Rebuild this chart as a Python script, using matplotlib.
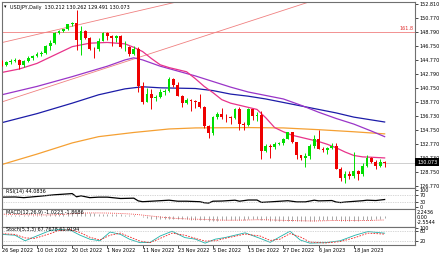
import matplotlib.pyplot as plt
from matplotlib.patches import Rectangle

# ---------------- data ----------------
date_labels = ["26 Sep 2022", "10 Oct 2022", "20 Oct 2022", "1 Nov 2022", "11 Nov 2022",
               "23 Nov 2022", "5 Dec 2022", "15 Dec 2022", "27 Dec 2022", "6 Jan 2023", "18 Jan 2023"]
date_pos = [0.05, 8, 16, 24, 32, 40, 48, 56, 64, 72, 80]

opens = [144.70, 144.10, 144.45, 144.70, 144.80, 144.10, 144.60, 145.10, 145.30, 145.70,
         145.80, 146.80, 147.20, 148.70, 149.00, 149.20, 149.90, 150.10, 147.60, 148.90,
         148.00, 146.40, 146.30, 147.50, 148.70, 148.20, 147.90, 148.20, 146.60, 146.65,
         145.60, 146.40, 141.00, 138.80, 139.90, 139.30, 139.50, 140.20, 140.40, 142.10,
         141.20, 139.65, 138.60, 139.10, 138.90, 138.70, 138.10, 135.30, 134.30, 136.65,
         137.00, 136.60, 136.55, 136.50, 137.70, 135.60, 135.45, 137.80, 136.70, 136.90,
         131.70, 132.40, 132.35, 132.80, 132.90, 133.50, 134.45, 133.00, 131.10, 130.70,
         131.00, 132.40, 133.40, 132.10, 131.90, 132.20, 132.40, 129.20, 127.90, 128.50,
         128.20, 128.90, 128.40, 129.60, 130.70, 130.20, 129.60, 130.212]
highs = [144.85, 144.70, 144.95, 145.05, 144.90, 144.85, 145.30, 145.45, 145.90, 146.10,
         146.90, 147.65, 148.85, 149.10, 149.30, 149.95, 150.30, 151.94, 149.70, 149.05,
         148.10, 146.60, 147.90, 148.80, 148.80, 148.40, 148.40, 148.40, 147.50, 146.80,
         146.80, 146.60, 141.70, 140.80, 140.60, 139.80, 140.70, 140.60, 142.30, 142.20,
         141.60, 139.80, 139.30, 139.20, 139.10, 139.90, 138.20, 135.40, 136.70, 137.30,
         137.90, 137.10, 136.80, 137.90, 138.00, 135.90, 137.90, 137.80, 137.30, 137.45,
         132.80, 132.70, 133.00, 133.00, 133.60, 134.50, 134.50, 133.10, 131.15, 131.40,
         132.70, 134.00, 134.80, 132.30, 132.30, 132.90, 132.90, 129.40, 128.90, 128.90,
         131.60, 129.00, 130.00, 131.10, 130.90, 130.50, 130.60, 130.262]
lows = [143.90, 143.90, 144.20, 144.45, 143.55, 143.80, 144.50, 144.80, 145.25, 145.40,
        145.70, 146.20, 147.10, 148.50, 148.85, 149.10, 149.70, 146.20, 145.50, 147.80,
        146.20, 145.10, 146.10, 147.45, 147.70, 146.80, 147.30, 146.55, 146.10, 145.30,
        145.50, 140.20, 138.50, 138.75, 137.70, 138.90, 139.30, 139.80, 140.20, 140.90,
        139.60, 138.10, 138.50, 137.50, 137.90, 137.90, 135.00, 133.60, 134.10, 136.30,
        136.40, 135.90, 135.60, 136.40, 134.70, 134.80, 135.30, 136.20, 136.10, 130.60,
        131.60, 130.80, 132.00, 132.60, 132.60, 133.40, 132.90, 130.60, 130.40, 129.50,
        130.60, 132.20, 132.00, 131.60, 131.30, 132.00, 129.10, 127.50, 127.20, 127.70,
        127.90, 127.60, 128.10, 129.50, 130.00, 129.20, 129.50, 129.491]
closes = [144.10, 144.45, 144.70, 144.80, 144.10, 144.60, 145.10, 145.30, 145.70, 145.80,
          146.80, 147.20, 148.70, 149.00, 149.20, 149.90, 150.10, 147.60, 148.90, 148.00,
          146.40, 146.30, 147.50, 148.70, 148.20, 147.90, 148.20, 146.60, 146.65, 145.60,
          146.40, 141.00, 138.80, 139.90, 139.30, 139.50, 140.20, 140.40, 142.10, 141.20,
          139.65, 138.60, 139.10, 138.90, 138.70, 138.10, 135.30, 134.30, 136.65, 137.00,
          136.60, 136.55, 136.50, 137.70, 135.60, 135.45, 137.80, 136.70, 136.90, 131.70,
          132.40, 132.35, 132.80, 132.90, 133.50, 134.45, 133.00, 131.10, 130.70, 131.00,
          132.40, 133.40, 132.10, 131.90, 132.20, 132.40, 129.20, 127.90, 128.50, 128.20,
          128.90, 128.40, 129.60, 130.70, 130.20, 129.60, 130.21, 130.073]

# moving averages, sampled along the chart (bar index, price)
ma_fast_x = [0, 4, 8, 12, 16, 20, 24, 28, 30, 32, 34, 36, 38, 40, 42, 44, 46, 48, 50, 52,
             54, 56, 58, 60, 62, 64, 66, 68, 70, 72, 74, 76, 78, 80, 82, 84, 87]
ma_fast = [143.0, 143.5, 144.3, 145.5, 146.7, 147.2, 147.3, 147.1, 146.6, 146.0, 145.0, 144.1,
           143.7, 143.4, 143.1, 142.1, 141.0, 140.1, 139.1, 138.6, 138.3, 138.0, 137.7, 136.5,
           135.1, 134.5, 134.0, 133.7, 133.4, 133.1, 132.7, 132.2, 131.6, 131.1, 130.9, 130.85, 130.75]
ma_mid_x = [0, 8, 16, 24, 28, 30, 32, 36, 40, 44, 48, 52, 56, 60, 64, 68, 72, 76, 80, 84, 87]
ma_mid = [139.8, 141.0, 142.4, 143.9, 144.8, 145.1, 144.8, 143.9, 143.2, 142.5, 141.7, 140.9,
          140.2, 139.7, 139.2, 138.3, 137.3, 136.4, 135.6, 134.6, 133.8]
ma_slow_x = [0, 8, 16, 22, 28, 32, 36, 44, 48, 52, 56, 60, 64, 68, 72, 76, 80, 84, 87]
ma_slow = [135.8, 137.1, 138.6, 139.8, 140.65, 140.95, 140.8, 140.7, 140.4, 139.9, 139.6,
           139.2, 138.7, 138.2, 137.7, 137.2, 136.6, 136.2, 135.9]
ma_long_x = [0, 8, 16, 22, 30, 38, 44, 56, 64, 72, 80, 87]
ma_long = [129.8, 131.3, 132.9, 133.8, 134.4, 134.9, 135.05, 135.1, 135.05, 134.8, 134.5, 134.2]

# trend lines (two anchor points each) and fibo level
trend1 = [(-0.4, 147.22), (41.6, 153.38)]
trend2 = [(-0.4, 138.69), (69.8, 153.10)]
fibo_level = 148.80
last_price = 130.073

price_ticks = [152.81, 150.77, 148.79, 146.75, 144.77, 142.79, 140.75, 138.77, 136.73,
               134.75, 132.77, 130.73, 128.75, 126.77]

rsi_x = [0, 3, 5, 8, 12, 16, 17, 18, 20, 22, 24, 27, 30, 31, 32, 34, 38, 40, 42, 45, 46, 47,
         48, 50, 53, 54, 56, 58, 59, 61, 65, 67, 69, 71, 72, 75, 76, 77, 78, 80, 82, 83, 85, 87]
rsi = [58, 59, 55, 62, 72, 79, 60, 66, 55, 58, 58, 50, 52, 36, 31, 34, 40, 34, 34, 31, 25, 23,
       34, 35, 40, 34, 41, 41, 27, 30, 37, 30, 30, 40, 36, 38, 29, 26, 29, 33, 37, 40, 38, 44]

macd_main = [1.00, 0.95, 0.90, 0.85, 0.75, 0.70, 0.70, 0.72, 0.78, 0.82,
             0.92, 1.05, 1.28, 1.50, 1.68, 1.88, 2.10, 2.20, 2.24, 2.05,
             1.80, 1.55, 1.45, 1.45, 1.40, 1.30, 1.25, 1.05, 0.88, 0.66,
             0.55, 0.05, -0.52, -0.85, -1.15, -1.35, -1.42, -1.45, -1.30, -1.30,
             -1.40, -1.55, -1.60, -1.65, -1.70, -1.75, -2.05, -2.35, -2.30, -2.20,
             -2.10, -2.00, -1.90, -1.75, -1.78, -1.80, -1.62, -1.55, -1.45, -1.85,
             -2.10, -2.30, -2.40, -2.45, -2.42, -2.30, -2.30, -2.45, -2.55, -2.55,
             -2.50, -2.20, -2.10, -2.00, -1.92, -1.85, -2.00, -2.20, -2.30, -2.35,
             -2.30, -2.30, -2.15, -1.95, -1.70, -1.45, -1.25, -1.02]
macd_signal = [1.20, 1.15, 1.10, 1.05, 1.00, 0.95, 0.90, 0.85, 0.82, 0.80,
               0.80, 0.82, 0.88, 0.98, 1.10, 1.25, 1.42, 1.55, 1.68, 1.78,
               1.84, 1.85, 1.84, 1.82, 1.78, 1.72, 1.65, 1.55, 1.43, 1.30,
               1.15, 0.95, 0.70, 0.45, 0.20, -0.05, -0.30, -0.55, -0.75, -0.95,
               -1.10, -1.22, -1.33, -1.42, -1.48, -1.52, -1.60, -1.70, -1.80, -1.88,
               -1.95, -2.00, -2.00, -1.98, -1.96, -1.93, -1.88, -1.82, -1.76, -1.75,
               -1.78, -1.84, -1.92, -2.00, -2.08, -2.15, -2.20, -2.25, -2.30, -2.35,
               -2.40, -2.40, -2.36, -2.32, -2.26, -2.18, -2.12, -2.10, -2.10, -2.12,
               -2.15, -2.17, -2.17, -2.15, -2.10, -2.02, -1.95, -1.87]

stoch_x = [0, 3, 5.3, 7.5, 11, 13, 15.5, 17.8, 20, 22.3, 24.6, 27, 29, 31.4, 33.7, 36, 38.7,
           41.6, 44, 46.2, 48.5, 50.7, 55.3, 58.7, 61, 63.2, 65.5, 67.8, 70, 73.5, 76.9,
           80.3, 83.2, 87]
stoch_main = [60, 55, 20, 45, 85, 90, 88, 55, 30, 20, 75, 60, 30, 8, 10, 50, 80, 40, 30, 5,
              30, 40, 70, 35, 10, 45, 80, 25, 5, 8, 20, 55, 78, 67.77]
stoch_signal = [65, 60, 38, 35, 65, 85, 90, 72, 42, 25, 55, 68, 45, 18, 8, 35, 68, 55, 35, 18,
                20, 35, 62, 50, 22, 30, 65, 45, 12, 6, 15, 40, 68, 61.92]

# ---------------- layout ----------------
W, H = 440, 254
fig = plt.figure(figsize=(W / 100, H / 100), dpi=100)
fig.patch.set_facecolor("white")
FS = 3.5
FRAME = "#707070"


def panel(y0, y1, x0=2, x1=415):
    ax = fig.add_axes([x0 / W, 1 - y1 / H, (x1 - x0) / W, (y1 - y0) / H])
    for s in ax.spines.values():
        s.set_color(FRAME)
        s.set_linewidth(0.8)
    ax.set_xlim(0.05, 93.9)
    ax.tick_params(axis="x", bottom=False, labelbottom=False)
    ax.yaxis.tick_right()
    ax.tick_params(axis="y", length=2, width=0.5, pad=1, labelsize=FS, colors="black")
    return ax


def ftext(x, y, s, **kw):
    fig.text(x / W, 1 - y / H, s, fontsize=FS, va="center", **kw)


ax = panel(2, 188)
ax_rsi = panel(188, 209)
ax_macd = panel(209, 227)
ax_st = panel(227, 245)

# ---------------- main chart ----------------
idx = list(range(len(closes)))
colors = ["#00dd00" if c >= o else "#ee0000" for o, c in zip(opens, closes)]
ax.vlines(idx, lows, highs, colors=colors, lw=0.7, zorder=3)
ax.bar(idx, [max(abs(c - o), 0.06) for o, c in zip(opens, closes)],
       bottom=[min(o, c) for o, c in zip(opens, closes)], width=0.62,
       color=colors, zorder=4, linewidth=0)

ax.plot(ma_long_x, ma_long, color="#f5a033", lw=0.9, zorder=2)
ax.plot(ma_slow_x, ma_slow, color="#1c1ca8", lw=0.9, zorder=2)
ax.plot(ma_mid_x, ma_mid, color="#9a35c8", lw=0.9, zorder=2)
ax.plot(ma_fast_x, ma_fast, color="#e8338a", lw=0.9, zorder=2)

ax.axline(trend1[0], trend1[1], color="#f08080", lw=0.6, zorder=1)
ax.axline(trend2[0], trend2[1], color="#f08080", lw=0.6, zorder=1)
ax.axhline(fibo_level, color="#f08080", lw=0.6, zorder=1)
ax.axhline(last_price, color="#c8c8c8", lw=0.6, zorder=1)
ax.text(93.6, fibo_level + 0.1, "161.8", color="#e03030", fontsize=FS, ha="right", va="bottom")

ax.set_ylim(126.44, 153.10)
ax.set_yticks(price_ticks)
ax.set_yticklabels(["%.3f" % v for v in price_ticks])

ftext(4, 7, "\u25be", color="black")
ftext(10, 7, "USDJPY,Daily  130.212 130.262 129.491 130.073", color="black")

# last price tag
fig.patches.append(Rectangle((415 / W, 1 - 166 / H), 24 / W, 8 / H, transform=fig.transFigure,
                             facecolor="black", edgecolor="none", zorder=5))
ftext(417.5, 162, "%.3f" % last_price, color="white", zorder=6)

# ---------------- RSI ----------------
ax_rsi.plot(rsi_x, rsi, color="black", lw=0.9)
ax_rsi.axhline(70, color="#b0b0b0", lw=0.5, ls=(0, (1, 1.5)))
ax_rsi.axhline(30, color="#b0b0b0", lw=0.5, ls=(0, (1, 1.5)))
ax_rsi.set_ylim(-12, 112)
ax_rsi.set_yticks([100, 70, 30, 0])
ax_rsi.set_yticklabels(["100", "70", "30", "0"])
ax_rsi.text(1, 104, "RSI(14) 44.0836", fontsize=FS, va="top", ha="left")

# ---------------- MACD ----------------
ax_macd.vlines(idx, 0, macd_main, colors="#909090", lw=0.55)
ax_macd.plot(idx, macd_signal, color="#ee2020", lw=0.6, ls=(0, (1, 1.5)))
ax_macd.set_ylim(-5.6, 3.93)
ax_macd.set_yticks([])
ftext(417, 213, "2.2436")
ftext(417, 217.5, "0.00")
ftext(417, 222, "-2.5544")
ax_macd.text(1, 3.6, "MACD(12,26,9) -1.0223 -1.8686", fontsize=FS, va="top", ha="left")

# ---------------- Stochastic ----------------
ax_st.plot(stoch_x, stoch_main, color="#20b2aa", lw=0.6)
ax_st.plot(stoch_x, stoch_signal, color="#ee2020", lw=0.6, ls=(0, (2, 1.5)))
ax_st.axhline(80, color="#b0b0b0", lw=0.5, ls=(0, (1, 1.5)))
ax_st.axhline(20, color="#b0b0b0", lw=0.5, ls=(0, (1, 1.5)))
ax_st.set_ylim(-6.7, 106.7)
ax_st.set_yticks([100, 80, 20])
ax_st.set_yticklabels(["100", "80", "20"])
ax_st.text(1, 104, "Stoch(5,3,3) 67.7678 61.9194", fontsize=FS, va="top", ha="left")

ax_st.set_xticks(date_pos)
ax_st.set_xticklabels(date_labels)
ax_st.tick_params(axis="x", bottom=True, labelbottom=True, length=2, width=0.5, pad=0.5,
                  labelsize=3.5, colors="black")
for lab in ax_st.get_xticklabels():
    lab.set_ha("left")

fig.savefig("out.png", dpi=100)
